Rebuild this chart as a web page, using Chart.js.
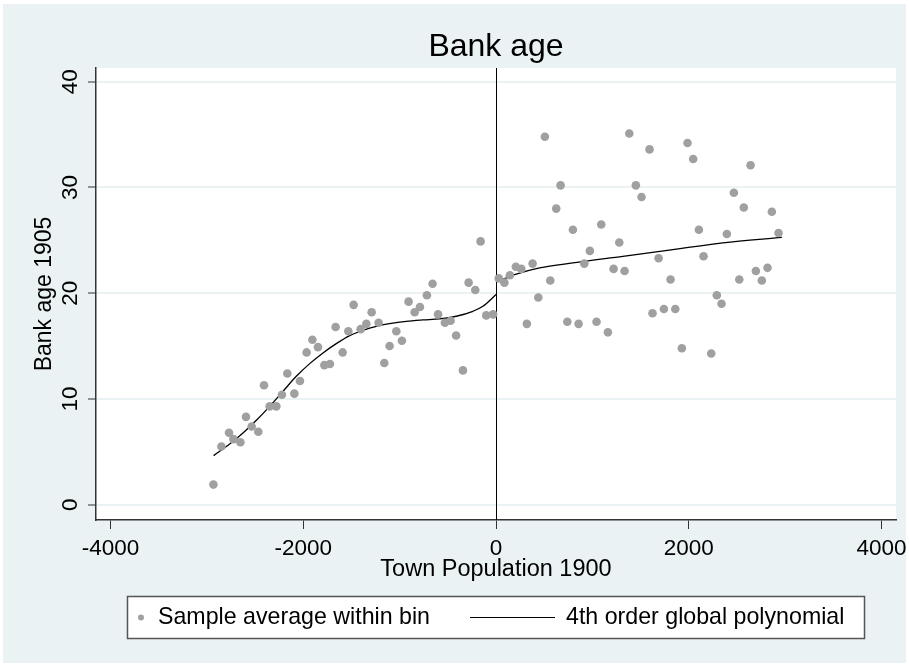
<!DOCTYPE html>
<html>
<head>
<meta charset="utf-8">
<script src="https://cdn.jsdelivr.net/npm/chart.js@4.4.1/dist/chart.umd.min.js"></script>
<style>
html, body { margin: 0; padding: 0; background: #fff; }
</style>
</head>
<body>
<canvas id="myChart" width="909" height="666"></canvas>
<script>
// bins: town population 1900 (centred on cutoff) and average bank age 1905
const binPop = [
  -2932, -2849, -2770, -2725, -2652, -2594, -2535, -2466, -2407, -2348,
  -2279, -2221, -2165, -2092, -2034, -1965, -1905, -1847, -1781, -1723,
  -1664, -1591, -1532, -1477, -1404, -1345, -1290, -1218, -1159, -1104,
  -1034, -976, -907, -844, -789, -717, -658, -601, -530, -471,
  -414, -343, -284, -215, -160, -101, -30,
  29, 87, 144, 206, 262, 320, 380, 439, 507, 563,
  625, 670, 740, 798, 857, 916, 974, 1043, 1092, 1161,
  1220, 1279, 1334, 1383, 1451, 1510, 1593, 1624, 1687, 1742,
  1811, 1860, 1928, 1987, 2046, 2105, 2153, 2233, 2291, 2340,
  2395, 2468, 2524, 2571, 2641, 2696, 2758, 2817, 2862, 2931
];
const binAge = [
  1.9, 5.5, 6.8, 6.2, 5.9, 8.3, 7.4, 6.9, 11.3, 9.3,
  9.3, 10.4, 12.4, 10.5, 11.7, 14.4, 15.6, 14.9, 13.2, 13.3,
  16.8, 14.4, 16.4, 18.9, 16.6, 17.1, 18.2, 17.2, 13.4, 15.0,
  16.4, 15.5, 19.2, 18.2, 18.7, 19.8, 20.9, 18.0, 17.2, 17.4,
  16.0, 12.7, 21.0, 20.3, 24.9, 17.9, 18.0,
  21.4, 21.0, 21.7, 22.5, 22.3, 17.1, 22.8, 19.6, 34.8, 21.2,
  28.0, 30.2, 17.3, 26.0, 17.1, 22.8, 24.0, 17.3, 26.5, 16.3,
  22.3, 24.8, 22.1, 35.1, 30.2, 29.1, 33.6, 18.1, 23.3, 18.5,
  21.3, 18.5, 14.8, 34.2, 32.7, 26.0, 23.5, 14.3, 19.8, 19.0,
  25.6, 29.5, 21.3, 28.1, 32.1, 22.1, 21.2, 22.4, 27.7, 25.7
];

// 4th order polynomial fit (left and right of cutoff)
const fitLeftX = [-2930, -2763, -2625, -2486, -2348, -2210, -2072, -1933, -1795, -1657,
  -1518, -1381, -1242, -1104, -930, -758, -585, -412, -240, -136, 0];
const fitLeftY = [4.64, 5.74, 6.78, 7.98, 9.30, 10.72, 12.14, 13.34, 14.35, 15.23,
  15.99, 16.49, 16.87, 17.12, 17.34, 17.47, 17.57, 17.82, 18.29, 18.76, 19.87];
const fitRightX = [0, 210, 452, 798, 1316, 1835, 2354, 2966];
const fitRightY = [21.07, 21.8, 22.39, 22.87, 23.49, 24.12, 24.76, 25.29];

const xTicks = [-4000, -2000, 0, 2000, 4000];
const yTicks = [0, 10, 20, 30, 40];

const bgColor = '#EAF2F3';
const dotColor = 'rgb(160,160,160)';
const fontFam = "'Liberation Sans', Arial, sans-serif";

const toPts = (xs, ys) => xs.map((v, i) => ({ x: v, y: ys[i] }));

const background = {
  id: 'background',
  beforeDraw(chart) {
    const c = chart.ctx;
    const a = chart.chartArea;
    c.save();
    c.fillStyle = '#fff';
    c.fillRect(0, 0, chart.width, chart.height);
    c.fillStyle = bgColor;
    c.fillRect(3, 4, chart.width - 6, chart.height - 7);
    c.fillStyle = '#fff';
    c.fillRect(a.left, a.top, a.right - a.left, a.bottom - a.top);
    c.restore();
  }
};

const zeroLine = {
  id: 'zeroLine',
  beforeDatasetsDraw(chart) {
    const c = chart.ctx;
    const a = chart.chartArea;
    const px = Math.round(chart.scales.x.getPixelForValue(0)) + 0.5;
    c.save();
    c.strokeStyle = '#000';
    c.lineWidth = 1;
    c.beginPath();
    c.moveTo(px, a.top);
    c.lineTo(px, a.bottom);
    c.stroke();
    c.restore();
  }
};

// title centred over the plot region, legend box under it (stata look)
const titleAndLegend = {
  id: 'titleAndLegend',
  afterDraw(chart) {
    const c = chart.ctx;
    const a = chart.chartArea;
    c.save();
    c.fillStyle = '#000';
    c.font = '32px ' + fontFam;
    c.textAlign = 'center';
    c.textBaseline = 'middle';
    c.fillText('Bank age', (a.left + a.right) / 2, 47);

    const bx = 127.5, by = 596.5, bw = 737, bh = 42;
    const my = by + bh / 2;
    c.fillStyle = '#fff';
    c.fillRect(bx, by, bw, bh);
    c.strokeStyle = '#555';
    c.lineWidth = 1.5;
    c.strokeRect(bx, by, bw, bh);
    c.fillStyle = dotColor;
    c.beginPath();
    c.arc(141, my, 3, 0, Math.PI * 2);
    c.fill();
    c.fillStyle = '#000';
    c.font = '23.2px ' + fontFam;
    c.textAlign = 'left';
    c.fillText('Sample average within bin', 158, my);
    c.strokeStyle = '#000';
    c.lineWidth = 1.2;
    c.beginPath();
    c.moveTo(470, my);
    c.lineTo(555, my);
    c.stroke();
    c.fillText('4th order global polynomial', 566, my);
    c.restore();
  }
};

new Chart(document.getElementById('myChart'), {
  type: 'scatter',
  data: {
    datasets: [
      {
        label: 'Sample average within bin',
        data: toPts(binPop, binAge),
        backgroundColor: dotColor,
        borderWidth: 0,
        pointRadius: 4.3
      },
      {
        label: '4th order global polynomial',
        data: toPts(fitLeftX, fitLeftY),
        showLine: true,
        borderColor: '#000',
        borderWidth: 1.3,
        pointRadius: 0,
        cubicInterpolationMode: 'monotone'
      },
      {
        label: 'fit right',
        data: toPts(fitRightX, fitRightY),
        showLine: true,
        borderColor: '#000',
        borderWidth: 1.3,
        pointRadius: 0,
        cubicInterpolationMode: 'monotone'
      }
    ]
  },
  options: {
    responsive: false,
    animation: false,
    layout: { padding: { top: 68, left: 0, right: 13, bottom: 76 } },
    plugins: {
      legend: { display: false },
      tooltip: { enabled: false },
      title: { display: false }
    },
    scales: {
      x: {
        type: 'linear',
        min: -4150,
        max: 4150,
        afterBuildTicks: s => { s.ticks = xTicks.map(v => ({ value: v })); },
        afterFit: s => { s.height = 70; s.paddingLeft = 0; s.paddingRight = 0; },
        grid: { display: true, drawOnChartArea: false, tickLength: 9, tickColor: '#333', tickWidth: 1 },
        border: { color: '#333', width: 1.5 },
        ticks: {
          color: '#000',
          font: { family: fontFam, size: 22.5 },
          padding: 6,
          maxRotation: 0,
          callback: v => String(v)
        },
        title: {
          display: true,
          text: 'Town Population 1900',
          color: '#000',
          font: { family: fontFam, size: 23.5 },
          padding: { top: 0, bottom: 6 }
        }
      },
      y: {
        min: -1.45,
        max: 41.3,
        afterBuildTicks: s => { s.ticks = yTicks.map(v => ({ value: v })); },
        afterFit: s => { s.width = 96; },
        grid: { color: bgColor, lineWidth: 2, tickLength: 8, tickColor: '#333', tickWidth: 1 },
        border: { color: '#333', width: 1.5 },
        ticks: {
          color: '#000',
          font: { family: fontFam, size: 22.5 },
          minRotation: 90,
          maxRotation: 90,
          crossAlign: 'center',
          padding: 5
        },
        title: {
          display: true,
          text: 'Bank age 1905',
          color: '#000',
          font: { family: fontFam, size: 23 },
          padding: { top: 31, bottom: 0 }
        }
      }
    }
  },
  plugins: [background, zeroLine, titleAndLegend]
});
</script>
</body>
</html>
